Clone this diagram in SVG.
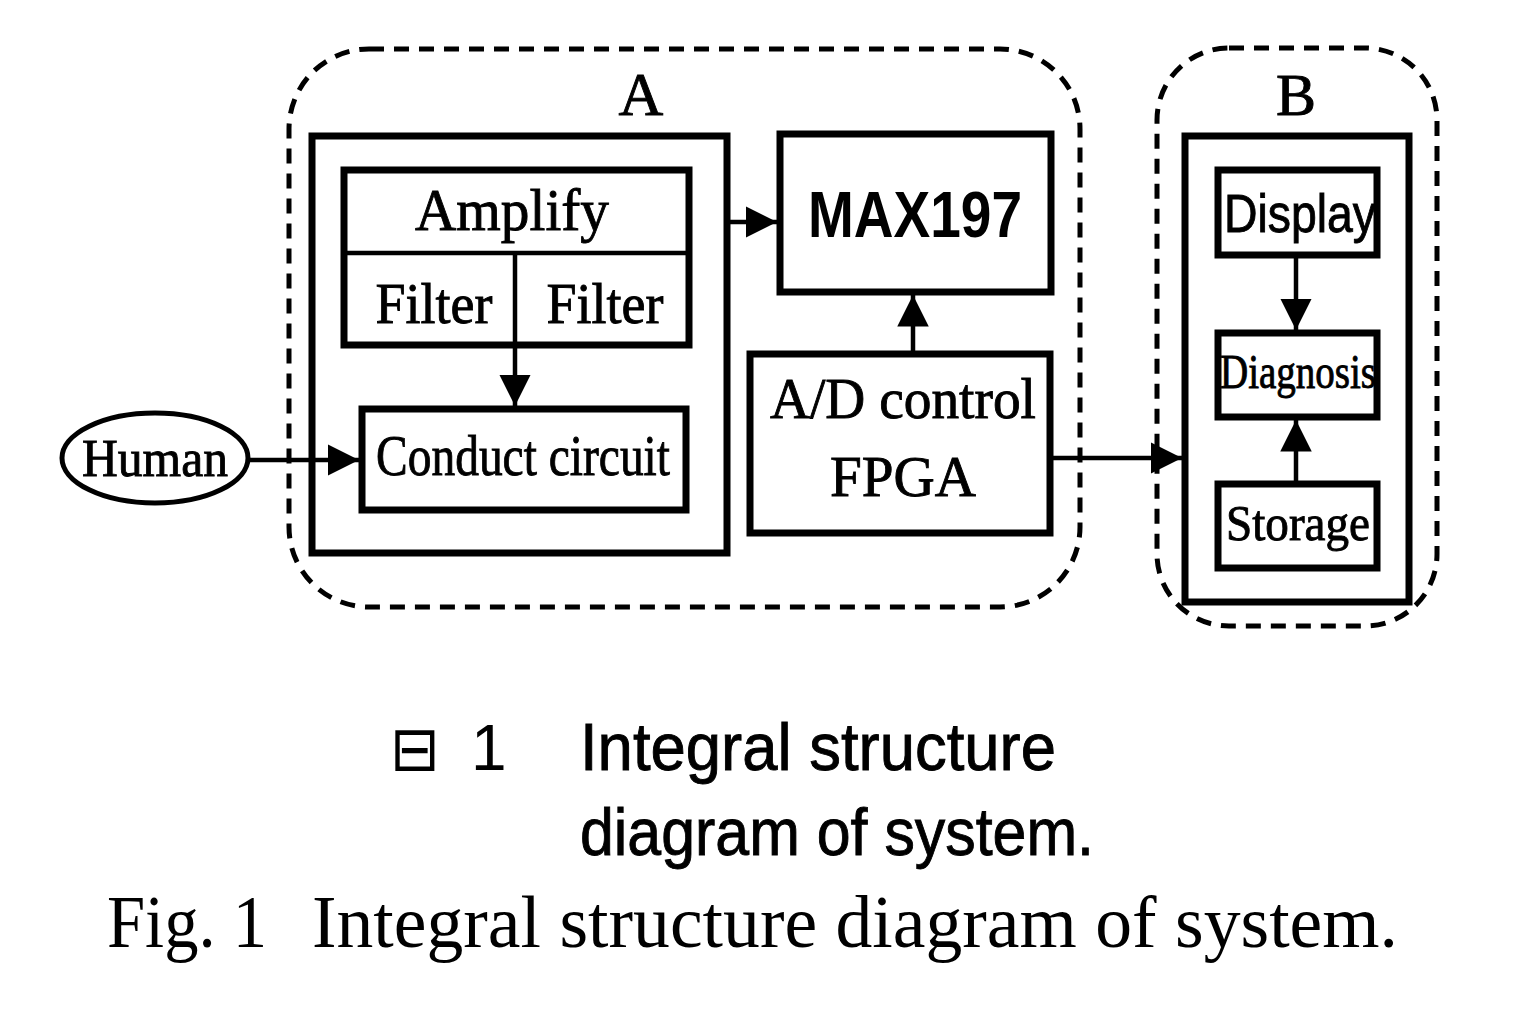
<svg xmlns="http://www.w3.org/2000/svg" width="1536" height="1024" viewBox="0 0 1536 1024">
<style>
.box{fill:#fff;stroke:#000;stroke-width:7}
.line{fill:none;stroke:#000;stroke-width:4.5}
.dash{fill:none;stroke:#000;stroke-width:5;stroke-dasharray:15 10}
.serif{font-family:"Liberation Serif","Times New Roman",serif;fill:#000}
.sans{font-family:"Liberation Sans",Arial,sans-serif;fill:#000}
.heavy{stroke:#000;stroke-width:0.9}
</style>
<defs>
<marker id="arr" viewBox="0 0 10 10" refX="10" refY="5" markerWidth="7" markerHeight="7" markerUnits="strokeWidth" orient="auto">
<path d="M0,0 L10,5 L0,10 Z" fill="#000"/>
</marker>
</defs>
<rect width="1536" height="1024" fill="#fff"/>

<g id="groupA">
<rect class="dash" x="289" y="49" width="791" height="558" rx="80" ry="80"/>
<text class="serif heavy" x="641" y="115" font-size="62" text-anchor="middle">A</text>
</g>
<g id="groupB">
<rect class="dash" x="1157" y="48" width="280" height="578" rx="72" ry="72"/>
<text class="serif heavy" x="1296" y="115" font-size="60" text-anchor="middle">B</text>
</g>

<g id="frontend">
<rect class="box" x="312" y="136" width="415" height="417"/>
</g>
<g id="amplify">
<rect class="box" x="344" y="170" width="345" height="175"/>
<line class="line" x1="344" y1="253" x2="689" y2="253" stroke-width="4"/>
<text class="serif heavy" x="512" y="230" font-size="60" text-anchor="middle" textLength="194" lengthAdjust="spacingAndGlyphs">Amplify</text>
</g>
<g id="filter1">
<text class="serif heavy" x="434" y="323" font-size="58" text-anchor="middle" textLength="117" lengthAdjust="spacingAndGlyphs">Filter</text>
</g>
<g id="filter2">
<text class="serif heavy" x="605" y="323" font-size="58" text-anchor="middle" textLength="117" lengthAdjust="spacingAndGlyphs">Filter</text>
</g>
<g id="conduct">
<rect class="box" x="362" y="409" width="324" height="101"/>
<text class="serif heavy" x="523" y="475" font-size="58" text-anchor="middle" textLength="294" lengthAdjust="spacingAndGlyphs">Conduct circuit</text>
</g>
<g id="max197">
<rect class="box" x="780" y="134" width="271" height="158"/>
<text class="sans" x="915" y="237" font-size="64" font-weight="bold" text-anchor="middle" textLength="214" lengthAdjust="spacingAndGlyphs">MAX197</text>
</g>
<g id="fpga">
<rect class="box" x="750" y="354" width="300" height="179"/>
<text class="serif heavy" x="903" y="418" font-size="58" text-anchor="middle" textLength="266" lengthAdjust="spacingAndGlyphs">A/D control</text>
<text class="serif heavy" x="903" y="496" font-size="58" text-anchor="middle" textLength="146" lengthAdjust="spacingAndGlyphs">FPGA</text>
</g>
<g id="human">
<ellipse cx="155" cy="458" rx="93" ry="45" fill="#fff" stroke="#000" stroke-width="5"/>
<text class="serif heavy" x="155" y="476" font-size="52" text-anchor="middle" textLength="146" lengthAdjust="spacingAndGlyphs">Human</text>
</g>
<g id="terminal">
<rect class="box" x="1185" y="136" width="224" height="466"/>
</g>
<g id="display">
<rect class="box" x="1218" y="170" width="159" height="85"/>
<text class="sans heavy" x="1300" y="232" font-size="54" text-anchor="middle" textLength="152" lengthAdjust="spacingAndGlyphs">Display</text>
</g>
<g id="diagnosis">
<rect class="box" x="1218" y="333" width="159" height="84"/>
<text class="serif heavy" x="1298" y="388" font-size="48" text-anchor="middle" textLength="156" lengthAdjust="spacingAndGlyphs">Diagnosis</text>
</g>
<g id="storage">
<rect class="box" x="1218" y="484" width="159" height="84"/>
<text class="serif heavy" x="1298" y="540" font-size="50" text-anchor="middle" textLength="144" lengthAdjust="spacingAndGlyphs">Storage</text>
</g>

<g id="connectors">
<line class="line" x1="515" y1="253" x2="515" y2="345" stroke-width="4"/>
<line class="line" x1="515" y1="345" x2="515" y2="406" marker-end="url(#arr)"/>
<line class="line" x1="248" y1="460" x2="359" y2="460" marker-end="url(#arr)"/>
<line class="line" x1="727" y1="222" x2="777" y2="222" marker-end="url(#arr)"/>
<line class="line" x1="913" y1="351" x2="913" y2="295" marker-end="url(#arr)"/>
<line class="line" x1="1050" y1="458" x2="1182" y2="458" marker-end="url(#arr)"/>
<line class="line" x1="1296" y1="258" x2="1296" y2="330" marker-end="url(#arr)"/>
<line class="line" x1="1296" y1="481" x2="1296" y2="420" marker-end="url(#arr)"/>
</g>

<g id="caption">
<text x="390" y="770" font-size="62" font-family="DejaVu Sans, sans-serif" textLength="50" lengthAdjust="spacingAndGlyphs">⊟</text>
<text class="sans" x="471" y="770" font-size="64">1</text>
<text class="sans heavy" x="580" y="770" font-size="66" textLength="476" lengthAdjust="spacingAndGlyphs">Integral structure</text>
<text class="sans heavy" x="580" y="855" font-size="66" textLength="514" lengthAdjust="spacingAndGlyphs">diagram of system.</text>
<text class="serif" x="107" y="947" font-size="74" textLength="160" lengthAdjust="spacingAndGlyphs">Fig. 1</text>
<text class="serif" x="312" y="947" font-size="74" textLength="1086" lengthAdjust="spacingAndGlyphs">Integral structure diagram of system.</text>
</g>
</svg>
